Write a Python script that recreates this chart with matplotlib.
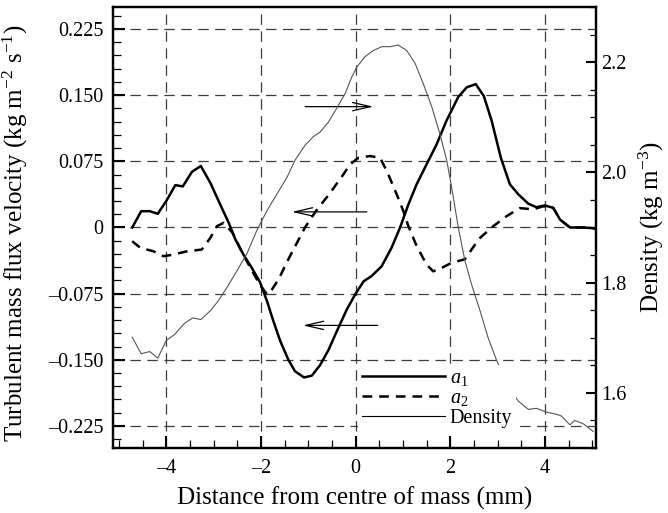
import matplotlib
matplotlib.use('Agg')
import matplotlib.pyplot as plt
from matplotlib.ticker import MultipleLocator, FixedLocator, FuncFormatter

plt.rcParams['font.family'] = ['Liberation Serif', 'DejaVu Serif']
plt.rcParams['mathtext.fontset'] = 'custom'
plt.rcParams['mathtext.rm'] = 'Liberation Serif'
plt.rcParams['mathtext.it'] = 'Liberation Serif:italic'
plt.rcParams['lines.scale_dashes'] = False

# turbulent mass flux a1 (left axis)
x_a1 = [-4.72, -4.53, -4.35, -4.18, -3.99, -3.81, -3.65, -3.46, -3.27, -3.07, -2.86, -2.68,
        -2.54, -2.37, -2.19, -2.02, -1.87, -1.735, -1.59, -1.42, -1.28, -1.09, -0.925, -0.75,
        -0.574, -0.40, -0.186, -0.01, 0.17, 0.34, 0.55, 0.76, 0.94, 1.115, 1.29, 1.50, 1.71,
        1.92, 2.17, 2.35, 2.54, 2.71, 2.875, 3.07, 3.26, 3.44, 3.65, 3.82, 4.0, 4.175, 4.32,
        4.53, 4.81, 5.06]
a1 = [0.0, 0.0185, 0.0185, 0.0155, 0.031, 0.048, 0.0466, 0.063, 0.0697, 0.0507, 0.026, 0.0052,
      -0.0136, -0.0307, -0.046, -0.062, -0.0838, -0.1065, -0.129, -0.150, -0.163, -0.170, -0.168,
      -0.156, -0.139, -0.118, -0.093, -0.076, -0.061, -0.055, -0.044, -0.023, 0.0, 0.026, 0.049,
      0.0716, 0.094, 0.121, 0.148, 0.159, 0.1625, 0.149, 0.121, 0.079, 0.049, 0.0375, 0.027,
      0.023, 0.025, 0.0223, 0.009, 0.0, 0.0, -0.001]

# turbulent mass flux a2 (left axis)
x_a2 = [-4.72, -4.55, -4.27, -4.06, -3.88, -3.56, -3.25, -3.07, -2.93, -2.79, -2.6, -2.4, -2.2,
        -2.02, -1.87, -1.77, -1.63, -1.42, -1.07, -0.84, -0.54, -0.26, -0.116, 0.06, 0.306,
        0.517, 0.66, 0.87, 1.01, 1.115, 1.29, 1.50, 1.64, 1.85, 2.03, 2.31, 2.45, 2.63, 2.91,
        3.19, 3.47, 3.75, 3.96, 4.175, 4.32, 4.53, 4.81, 5.06]
a2 = [-0.0156, -0.023, -0.027, -0.0326, -0.031, -0.027, -0.025, -0.0118, 0.0015, 0.0052, -0.006,
      -0.028, -0.048, -0.065, -0.076, -0.0705, -0.059, -0.036, 0.0, 0.0185, 0.039, 0.060, 0.0716,
      0.079, 0.081, 0.079, 0.064, 0.0375, 0.0185, 0.0015, -0.021, -0.042, -0.0497, -0.045, -0.040,
      -0.036, -0.025, -0.0118, 0.0015, 0.0128, 0.022, 0.0205, 0.024, 0.0223, 0.009, 0.0, 0.0,
      -0.001]

# density (right axis)
x_rho = [-4.72, -4.53, -4.35, -4.18, -4.0, -3.81, -3.62, -3.44, -3.27, -3.07, -2.90, -2.72,
         -2.51, -2.30, -2.09, -1.87, -1.66, -1.45, -1.28, -1.07, -0.89, -0.75, -0.574, -0.40,
         -0.22, -0.08, 0.025, 0.20, 0.376, 0.553, 0.728, 0.90, 1.08, 1.256, 1.43, 1.61, 1.78,
         1.925, 2.03, 2.17, 2.31, 2.45, 2.63, 2.80, 2.98, 3.26, 3.44, 3.65, 3.82, 4.04, 4.25,
         4.35, 4.53, 4.63, 4.81, 5.02]
rho = [1.701, 1.671, 1.675, 1.663, 1.695, 1.707, 1.726, 1.736, 1.733, 1.749, 1.767, 1.791, 1.821,
       1.852, 1.894, 1.931, 1.961, 1.991, 2.022, 2.049, 2.065, 2.073, 2.091, 2.116, 2.143, 2.173,
       2.191, 2.21, 2.221, 2.228, 2.228, 2.231, 2.221, 2.198, 2.161, 2.119, 2.07, 2.022, 1.973,
       1.90, 1.84, 1.797, 1.749, 1.70, 1.659, 1.606, 1.585, 1.570, 1.572, 1.565, 1.561, 1.558,
       1.542, 1.55, 1.544, 1.53]

# arrows: (tail x, head x, y on left axis)
arrows = [(-1.066, 0.376, 0.137), (0.236, -1.347, 0.0177), (0.47, -1.115, -0.111)]

left_ticks = [-0.225, -0.150, -0.075, 0.0, 0.075, 0.150, 0.225]
x_ticks = [-4, -2, 0, 2, 4]
right_ticks = [1.6, 1.8, 2.0, 2.2]

fs = 14.5
lab_fs = 18
fig = plt.figure(figsize=(6.68, 5.13), dpi=100)
ax1 = fig.add_axes([0.1696, 0.1267, 0.7226, 0.8597])
ax2 = ax1.twinx()

grid_kw = dict(color='#3c3c3c', lw=0.9, linestyle=(0, (7.5, 4.7)), zorder=0)
for v in x_ticks:
    ax1.axvline(v, **grid_kw)
for v in left_ticks:
    ax1.axhline(v, **grid_kw)

l1, = ax1.plot(x_a1, a1, color='black', lw=1.8, label='$a_1$', zorder=3)
l2, = ax1.plot(x_a2, a2, color='black', lw=1.8, linestyle=(0, (7, 5)), label='$a_2$', zorder=3)
l3, = ax2.plot(x_rho, rho, color='#555555', lw=0.8, label='Density')

for x0, x1, y in arrows:
    ax1.annotate('', xy=(x1, y), xytext=(x0, y),
                 arrowprops=dict(arrowstyle='->, head_length=1.3, head_width=0.3',
                                 lw=0.9, color='black', shrinkA=0, shrinkB=0))

ax1.set_xlim(-5.12, 5.08)
ax1.set_ylim(-0.25, 0.25)
ax2.set_ylim(1.5, 2.3)

dash = lambda s: s.replace('-', '\u2013')
ax1.xaxis.set_major_locator(FixedLocator(x_ticks))
ax1.xaxis.set_minor_locator(MultipleLocator(0.5))
ax1.xaxis.set_major_formatter(FuncFormatter(lambda v, p: dash(f'{v:.0f}')))
ax1.yaxis.set_major_locator(FixedLocator(left_ticks))
ax1.yaxis.set_minor_locator(MultipleLocator(0.015))
ax1.yaxis.set_major_formatter(FuncFormatter(lambda v, p: '0' if abs(v) < 1e-9 else dash(f'{v:.3f}')))
ax2.yaxis.set_major_locator(FixedLocator(right_ticks))
ax2.yaxis.set_minor_locator(MultipleLocator(0.05))
ax2.yaxis.set_major_formatter(FuncFormatter(lambda v, p: f'{v:.1f}'))

ax1.tick_params(which='both', direction='in', top=False, right=False, labelsize=fs)
ax1.tick_params(which='major', length=8.4, width=1.5)
ax1.tick_params(which='minor', length=5.5, width=0.9)
ax1.tick_params(axis='y', which='major', pad=7)
ax1.tick_params(axis='x', which='major', pad=8)
ax2.tick_params(which='both', direction='in', labelsize=fs)
ax2.tick_params(which='major', length=7.5, width=1.5, pad=4)
ax2.tick_params(which='minor', length=4.5, width=0.9)

for ax in (ax1, ax2):
    for s in ax.spines.values():
        s.set_linewidth(1.6)

ax1.set_xlabel('Distance from centre of mass (mm)', fontsize=lab_fs)
ax1.set_ylabel('Turbulent mass flux velocity (kg m$^{-2}$ s$^{-1}$)', fontsize=lab_fs)
ax2.set_ylabel('Density (kg m$^{-3}$)', fontsize=lab_fs)
ax1.xaxis.set_label_coords(0.5, -0.087)
ax1.yaxis.set_label_coords(-0.172, 0.486)
ax2.yaxis.set_label_coords(1.085, 0.5)

leg = ax2.legend(handles=[l1, l2, l3], loc='upper left', bbox_to_anchor=(0.507, 0.189),
                 fontsize=fs, frameon=True, fancybox=False, framealpha=1, facecolor='white',
                 edgecolor='none', borderaxespad=0, borderpad=0.2, handlelength=4.1,
                 handletextpad=0.25, labelspacing=0.05)
leg.get_lines()[2].set_color('black')

fig.savefig('out.png', dpi=100)
